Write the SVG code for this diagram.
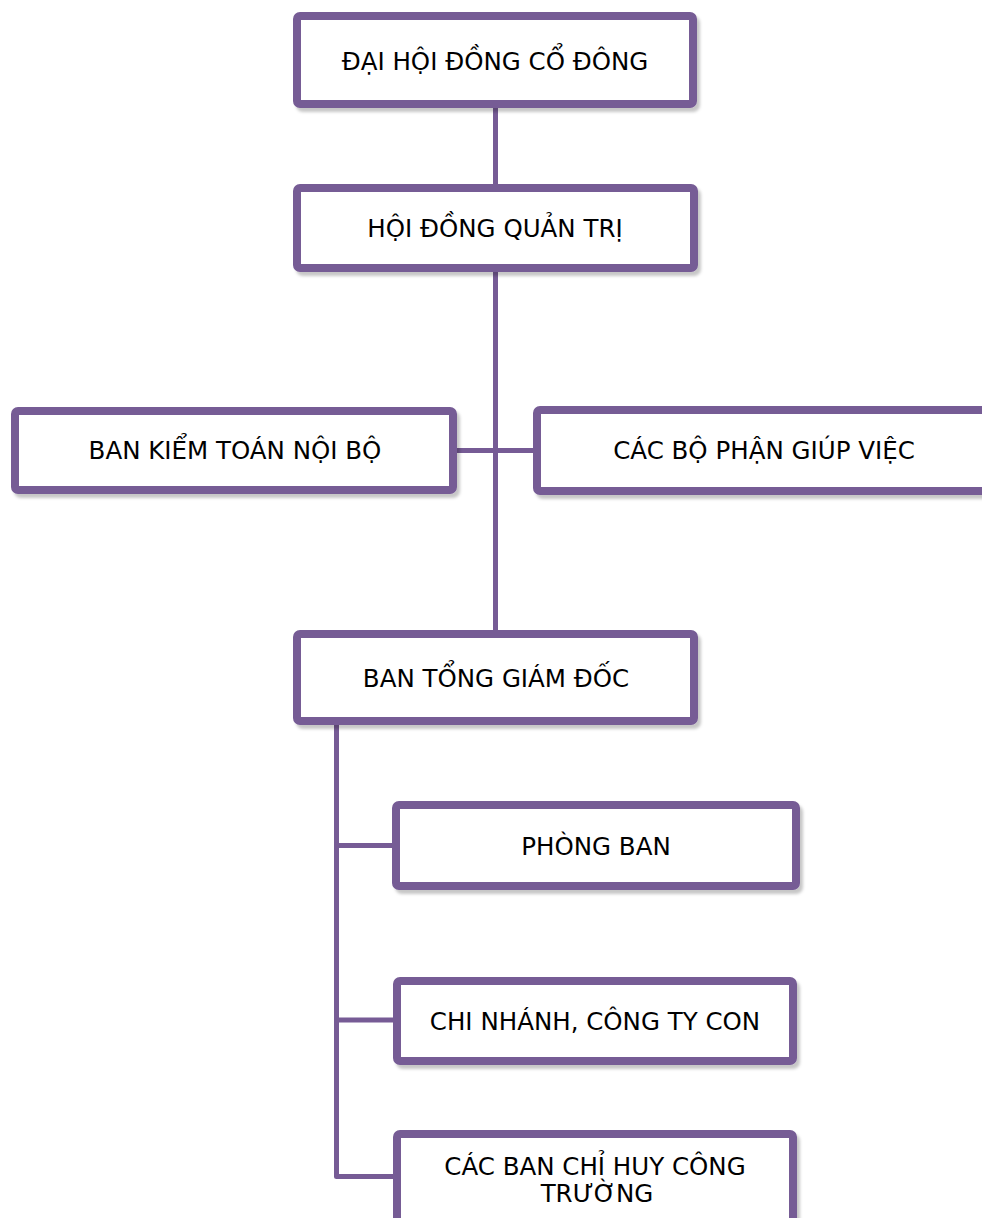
<svg xmlns="http://www.w3.org/2000/svg" width="982" height="1218" viewBox="0 0 982 1218">
  <defs>
    <filter id="shadow" x="-5%" y="-10%" width="115%" height="130%">
      <feDropShadow dx="3" dy="4" stdDeviation="1.5" flood-color="#000" flood-opacity="0.22"/>
    </filter>
  </defs>
  <style>
    .box { fill: #ffffff; stroke: #765b95; stroke-width: 8; filter: url(#shadow); }
    .label { font-family: "DejaVu Sans", Verdana, sans-serif; font-size: 24.5px; fill: #000000; text-anchor: middle; }
    .link { fill: none; stroke: #765b95; stroke-width: 5; stroke-linejoin: round; }
  </style>
  <rect width="982" height="1218" fill="#ffffff"/>

  <!-- connectors -->
  <g id="connectors">
    <path class="link" d="M495.5 106 V186"/>
    <path class="link" d="M495.5 270 V632"/>
    <path class="link" d="M455 450.5 H535"/>
    <path class="link" d="M336.5 723 V1176.5 H395"/>
    <path class="link" d="M336.5 845.5 H394"/>
    <path class="link" d="M336.5 1020 H395"/>
  </g>

  <g id="dai-hoi-dong-co-dong">
    <rect class="box" x="297" y="16" width="396" height="88" rx="3"/>
    <text class="label" x="495" y="70">ĐẠI HỘI ĐỒNG CỔ ĐÔNG</text>
  </g>

  <g id="hoi-dong-quan-tri">
    <rect class="box" x="297" y="188" width="397" height="80" rx="3"/>
    <text class="label" x="495" y="237">HỘI ĐỒNG QUẢN TRỊ</text>
  </g>

  <g id="ban-kiem-toan-noi-bo">
    <rect class="box" x="15" y="411" width="438" height="79" rx="3"/>
    <text class="label" x="235" y="459">BAN KIỂM TOÁN NỘI BỘ</text>
  </g>

  <g id="cac-bo-phan-giup-viec">
    <rect class="box" x="537" y="410" width="460" height="81" rx="3"/>
    <text class="label" x="764" y="459">CÁC BỘ PHẬN GIÚP VIỆC</text>
  </g>

  <g id="ban-tong-giam-doc">
    <rect class="box" x="297" y="634" width="397" height="87" rx="3"/>
    <text class="label" x="496" y="687">BAN TỔNG GIÁM ĐỐC</text>
  </g>

  <g id="phong-ban">
    <rect class="box" x="396" y="805" width="400" height="81" rx="3"/>
    <text class="label" x="596" y="855">PHÒNG BAN</text>
  </g>

  <g id="chi-nhanh-cong-ty-con">
    <rect class="box" x="397" y="981" width="396" height="80" rx="3"/>
    <text class="label" x="595" y="1030">CHI NHÁNH, CÔNG TY CON</text>
  </g>

  <g id="cac-ban-chi-huy-cong-truong">
    <rect class="box" x="397" y="1134" width="396" height="110" rx="3"/>
    <text class="label" x="595" y="1175">CÁC BAN CHỈ HUY CÔNG</text>
    <text class="label" x="597" y="1202">TRƯỜNG</text>
  </g>
</svg>
